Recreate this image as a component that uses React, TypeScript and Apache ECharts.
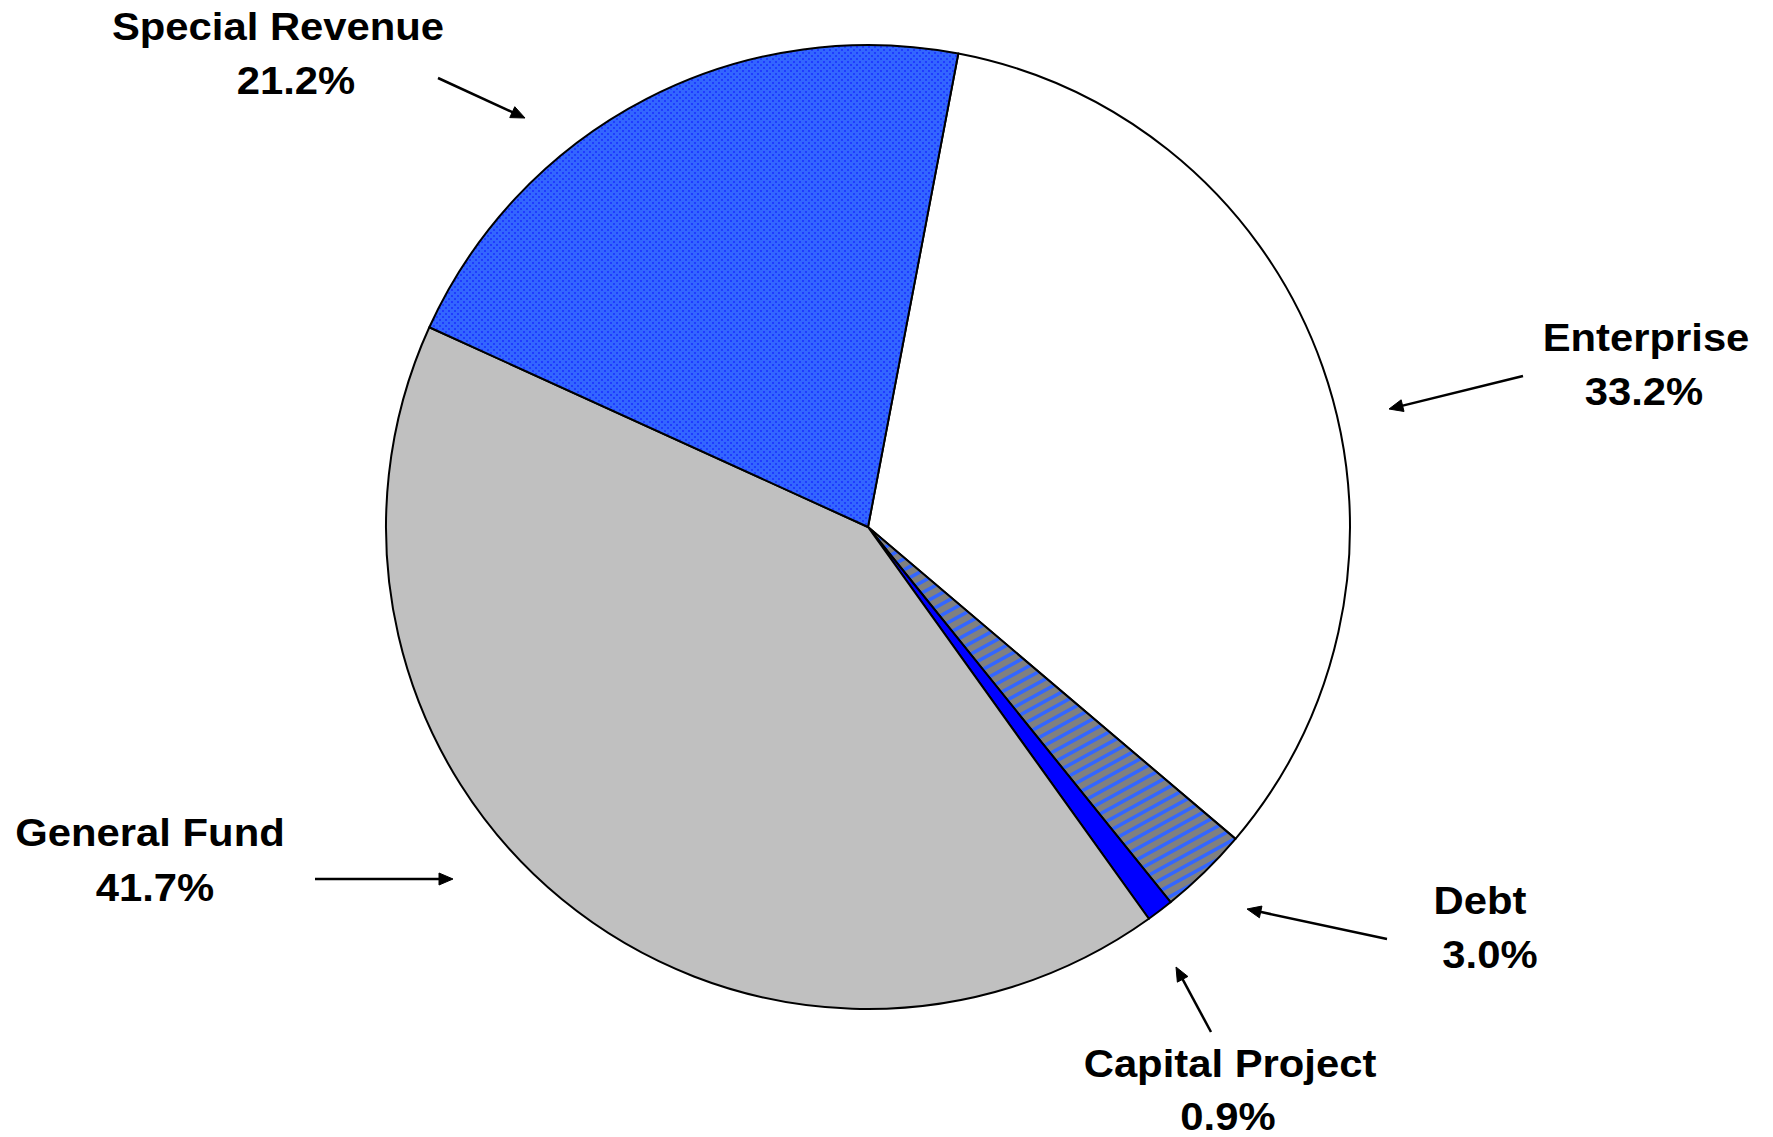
import React, { useEffect, useRef } from "react";
import * as echarts from "echarts";

const categories = ["Enterprise", "Debt", "Capital Project", "General Fund", "Special Revenue"];
const values = [33.2, 3.0, 0.9, 41.7, 21.2];
const percentLabels = ["33.2%", "3.0%", "0.9%", "41.7%", "21.2%"];

function dotPattern(): HTMLCanvasElement {
  const c = document.createElement("canvas");
  c.width = 6;
  c.height = 6;
  const ctx = c.getContext("2d")!;
  ctx.fillStyle = "#3366ff";
  ctx.fillRect(0, 0, 6, 6);
  ctx.fillStyle = "#1f3cff";
  ctx.fillRect(1, 1, 2, 2);
  ctx.fillRect(4, 4, 2, 2);
  return c;
}

function stripePattern(): HTMLCanvasElement {
  const W = 20, H = 11;
  const c = document.createElement("canvas");
  c.width = W;
  c.height = H;
  const ctx = c.getContext("2d")!;
  ctx.fillStyle = "#808080";
  ctx.fillRect(0, 0, W, H);
  ctx.strokeStyle = "#3366ff";
  ctx.lineWidth = 3.5;
  for (let n = -1; n <= 3; n++) {
    ctx.beginPath();
    ctx.moveTo(n * W + W, -H);
    ctx.lineTo(n * W - 2 * W, 2 * H);
    ctx.stroke();
  }
  return c;
}

// label placements (annotation layout)
const labelLayout: Record<string, { l1: [number, number]; l2: [number, number]; from: [number, number]; to: [number, number] }> = {
  "Enterprise": { l1: [1646, 338], l2: [1644, 392], from: [1523, 376], to: [1389, 409] },
  "Debt": { l1: [1480, 901], l2: [1490, 955], from: [1387, 939], to: [1247, 909] },
  "Capital Project": { l1: [1230, 1064], l2: [1228, 1117], from: [1211, 1032], to: [1176, 967] },
  "General Fund": { l1: [150, 833], l2: [155, 888], from: [315, 879], to: [453, 879] },
  "Special Revenue": { l1: [278, 27], l2: [296, 81], from: [438, 78], to: [525, 118] },
};

function textEl(s: string, x: number, y: number) {
  return {
    type: "text",
    x,
    y,
    scaleX: 1.1,
    style: {
      text: s,
      x: 0,
      y: 0,
      fill: "#000",
      font: "bold 38px 'Liberation Sans', Arial, sans-serif",
      textAlign: "center",
      textVerticalAlign: "middle",
      align: "center",
      verticalAlign: "middle",
    },
  };
}

function arrowEls(from: [number, number], to: [number, number]) {
  const dx = to[0] - from[0];
  const dy = to[1] - from[1];
  const len = Math.sqrt(dx * dx + dy * dy);
  const ux = dx / len, uy = dy / len;
  const nx = -uy, ny = ux;
  const L = 14, w = 6;
  const bx = to[0] - ux * L, by = to[1] - uy * L;
  return [
    {
      type: "line",
      shape: { x1: from[0], y1: from[1], x2: bx + ux * 3, y2: by + uy * 3 },
      style: { stroke: "#000", lineWidth: 2.5 },
    },
    {
      type: "polygon",
      shape: { points: [[to[0], to[1]], [bx + nx * w, by + ny * w], [bx - nx * w, by - ny * w]] },
      style: { fill: "#000", stroke: "#000", lineWidth: 1 },
    },
  ];
}

export default function App() {
  const ref = useRef<HTMLDivElement>(null);
  useEffect(() => {
    document.body.style.margin = "0";
    const chart = echarts.init(ref.current!, null, { renderer: "svg" });
    const dots = dotPattern();
    const stripes = stripePattern();
    const fills: Record<string, any> = {
      "Enterprise": "#ffffff",
      "Debt": { image: stripes, repeat: "repeat", imageWidth: 20, imageHeight: 11 },
      "Capital Project": "#0000ff",
      "General Fund": "#c0c0c0",
      "Special Revenue": { image: dots, repeat: "repeat", imageWidth: 6, imageHeight: 6 },
    };
    const graphics: any[] = [];
    categories.forEach((c, i) => {
      const lay = labelLayout[c];
      graphics.push(textEl(c, lay.l1[0], lay.l1[1]));
      graphics.push(textEl(percentLabels[i], lay.l2[0], lay.l2[1]));
      graphics.push(...arrowEls(lay.from, lay.to));
    });
    chart.setOption({
      animation: false,
      backgroundColor: "#ffffff",
      series: [
        {
          type: "pie",
          center: [868, 527],
          radius: 482,
          startAngle: 79.2,
          clockwise: true,
          avoidLabelOverlap: false,
          label: { show: false },
          labelLine: { show: false },
          emphasis: { disabled: true },
          itemStyle: { borderColor: "#000000", borderWidth: 2 },
          data: categories.map((c, i) => ({
            name: c,
            value: values[i],
            itemStyle: { color: fills[c] },
          })),
        },
      ],
      graphic: graphics,
    });
    return () => chart.dispose();
  }, []);
  return <div ref={ref} style={{ width: 1773, height: 1137 }} />;
}
